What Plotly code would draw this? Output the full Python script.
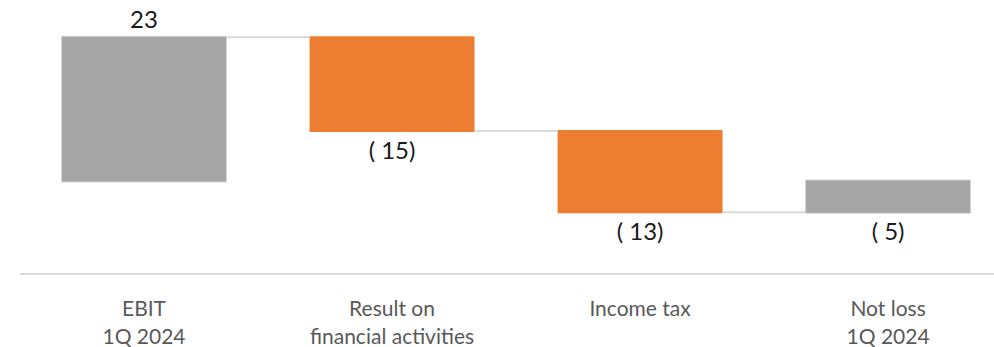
import plotly.graph_objects as go

# Bridge from EBIT to the bottom line, 1Q 2024
categories = ["EBIT<br>1Q 2024", "Result on<br>financial activities", "Income tax", "Not loss<br>1Q 2024"]
values = [23, -15, -13, -5]
measures = ["absolute", "relative", "relative", "total"]
value_labels = ["23", "( 15)", "( 13)", "( 5)"]

GREY = "#a5a5a5"
ORANGE = "#ed7d31"
FONT = "Lato"

fig = go.Figure(
    go.Waterfall(
        x=categories,
        y=values,
        measure=measures,
        text=value_labels,
        textposition="outside",
        textfont=dict(family=FONT, size=24, color="#1a1a1a"),
        cliponaxis=False,
        totals=dict(marker=dict(color=GREY, line=dict(color="#d6d6d6", width=1))),
        decreasing=dict(marker=dict(color=ORANGE, line=dict(color=ORANGE, width=0))),
        increasing=dict(marker=dict(color=ORANGE, line=dict(color=ORANGE, width=0))),
        connector=dict(line=dict(color="#d9d9d9", width=2)),
        hoverinfo="skip",
    )
)

fig.update_layout(
    width=994,
    height=347,
    margin=dict(l=20, r=0, t=0, b=74),
    paper_bgcolor="white",
    plot_bgcolor="white",
    showlegend=False,
    waterfallgap=0.335,
    font=dict(family=FONT),
)

fig.update_xaxes(
    range=[-0.5, 3.427],
    automargin=False,
    showline=True,
    linecolor="#d9d9d9",
    linewidth=2,
    showgrid=False,
    ticks="",
    ticklabelstandoff=16,
    tickfont=dict(family=FONT, size=21, color="#595959"),
)
fig.update_yaxes(
    range=[-14.72, 28.96],
    automargin=False,
    showgrid=False,
    zeroline=False,
    showticklabels=False,
    showline=False,
)

fig.write_html("out.html")
